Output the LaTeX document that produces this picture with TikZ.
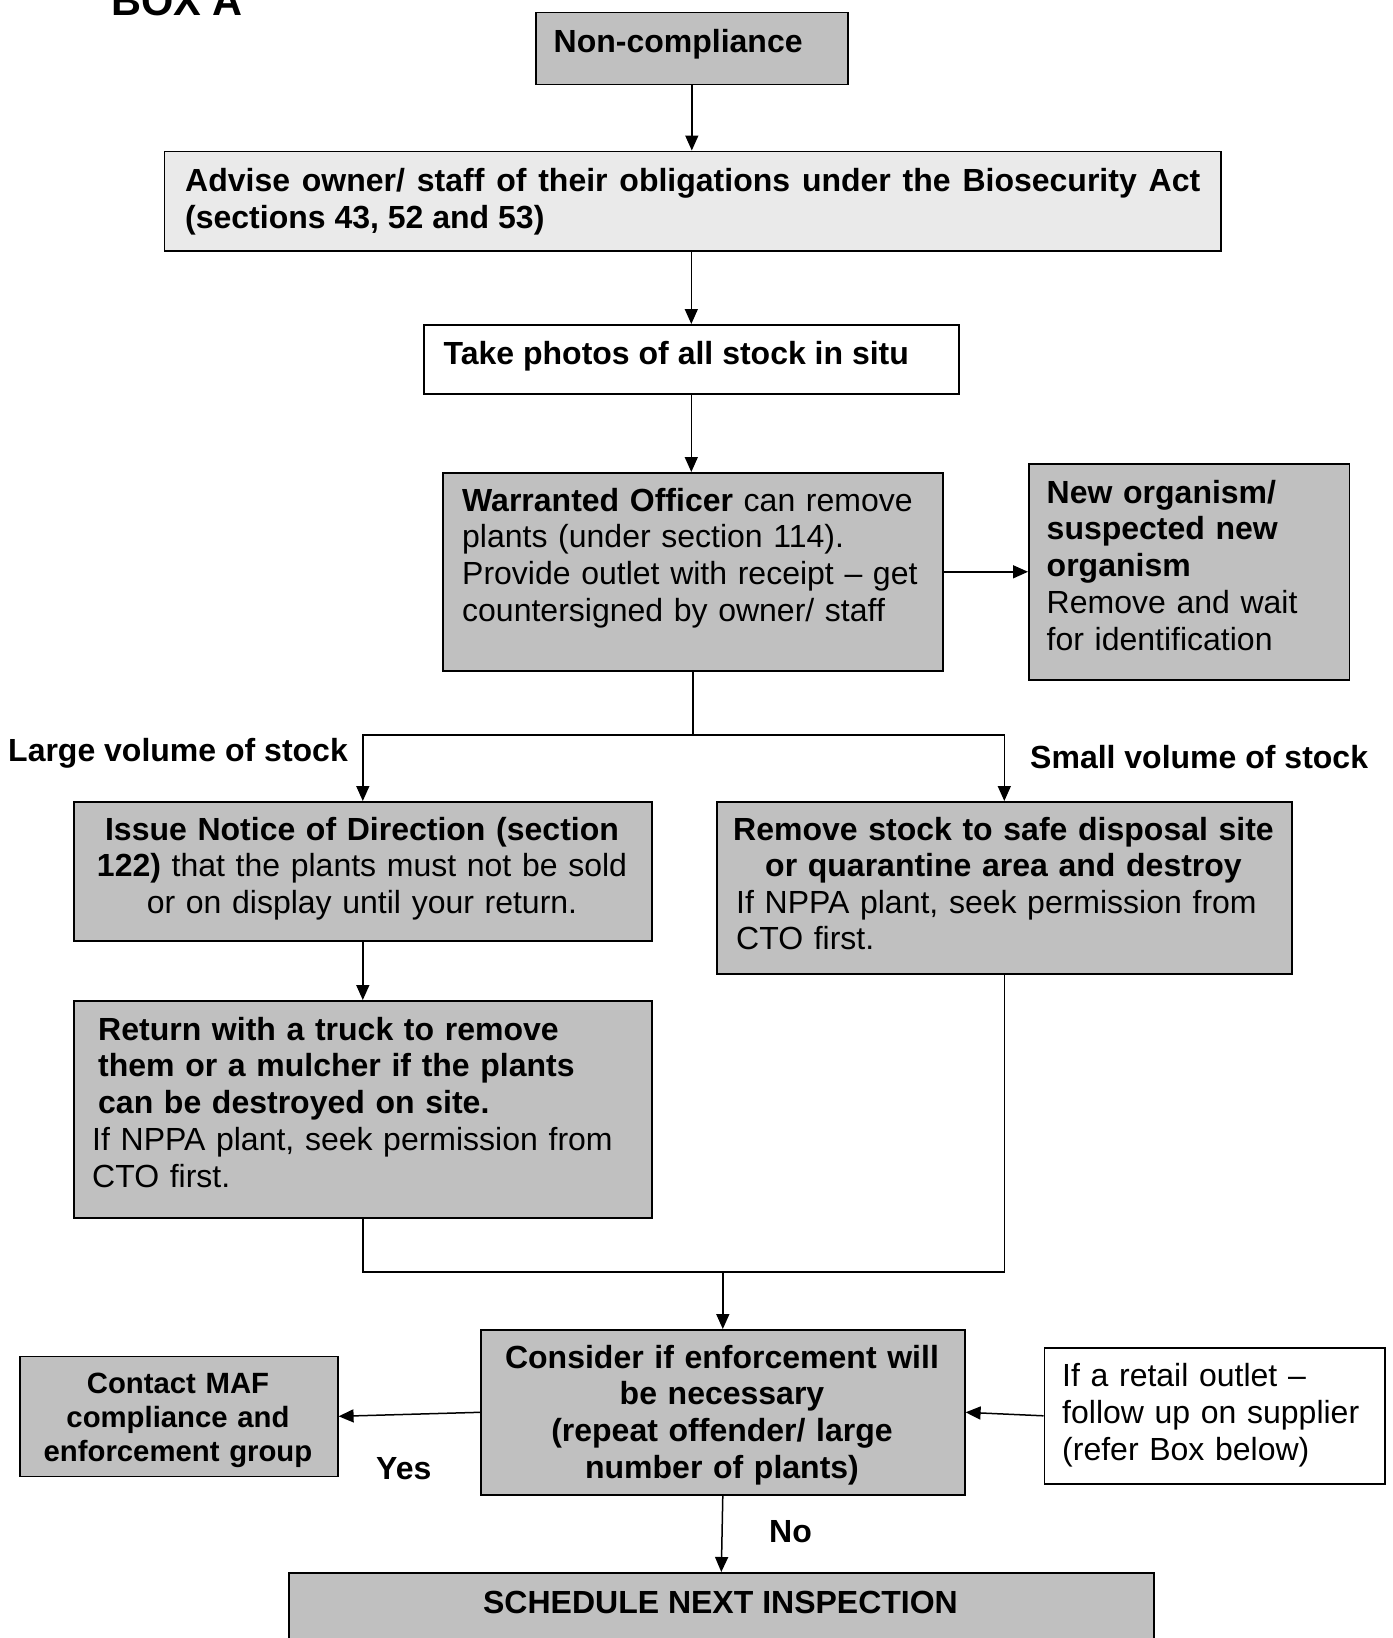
\documentclass[tikz,border=0pt]{standalone}
\usepackage{fontspec}
\setmainfont{Liberation Sans}
\usetikzlibrary{arrows.meta}
\definecolor{boxgray}{RGB}{192,192,192}
\definecolor{boxlight}{RGB}{234,234,234}
\begin{document}
\begin{tikzpicture}[x=1pt,y=-1pt,
  box/.style={draw,line width=1.6pt,fill=boxgray,anchor=north west,inner sep=0pt},
  txt/.style={inner sep=0pt,font=\fontsize{32}{36.8}\selectfont},
  conn/.style={line width=1.5pt},
  arr/.style={conn,-{Triangle[length=15pt,width=13pt]}}]
\useasboundingbox (0,0) rectangle (1392,1638);
\clip (0,0) rectangle (1392,1638);
\fill[white] (0,0) rectangle (1392,1638);

\node (boxa) at (111,16) [txt,anchor=base west,font=\fontsize{41.5}{47}\selectfont\bfseries] {BOX A};

\node (nonc) at (535,11.5) [box,minimum width=312pt,minimum height=72pt] {};
\node (advise) at (163.5,150.5) [box,fill=boxlight,minimum width=1056.5pt,minimum height=99.5pt] {};
\node (photos) at (423,324) [box,fill=white,minimum width=535pt,minimum height=69pt] {};
\node (warr) at (442,472) [box,minimum width=500pt,minimum height=198pt] {};
\node (neworg) at (1028,463) [box,minimum width=320.5pt,minimum height=216pt] {};
\node (issue) at (73,801) [box,minimum width=578pt,minimum height=139pt] {};
\node (remove) at (716,801) [box,minimum width=575pt,minimum height=172pt] {};
\node (return) at (73,1000) [box,minimum width=578pt,minimum height=217pt] {};
\node (consider) at (480,1329) [box,minimum width=484pt,minimum height=165pt] {};
\node (contact) at (19,1355.5) [box,minimum width=318pt,minimum height=120pt] {};
\node (retail) at (1043.5,1347) [box,fill=white,minimum width=340.5pt,minimum height=136pt] {};
\node (sched) at (288,1572) [box,minimum width=865pt,minimum height=100pt] {};

\node (nonctxt) at (553.5,52) [txt,anchor=base west] {\bfseries Non-compliance};
\node (advisetxt) at (185,191.5) [txt,anchor=base west,text width=1015pt,align=justify] {\bfseries Advise owner/ staff of their obligations under the Biosecurity Act\linebreak (sections 43, 52 and 53)};
\node (photostxt) at (443.5,364.5) [txt,anchor=base west] {\bfseries Take photos of all stock in situ};
\node (warrtxt) at (462,511) [txt,anchor=base west,text width=470pt,align=left] {\textbf{Warranted Officer} can remove\\plants (under section 114).\\Provide outlet with receipt – get\\countersigned by owner/ staff};
\node (neworgtxt) at (1046.5,503) [txt,anchor=base west,text width=300pt,align=left] {\textbf{New organism/}\\\textbf{suspected new}\\\textbf{organism}\\Remove and wait\\for identification};
\node (largelbl) at (8,761) [txt,anchor=base west] {\bfseries Large volume of stock};
\node (smalllbl) at (1030,768) [txt,anchor=base west] {\bfseries Small volume of stock};
\node (issuetxt) at (362,840) [txt,anchor=base,text width=570pt,align=center] {\textbf{Issue Notice of Direction (section}\\\textbf{122)} that the plants must not be sold\\or on display until your return.};
\node (removetop) at (1003.5,840) [txt,anchor=base,text width=570pt,align=center] {\bfseries Remove stock to safe disposal site\\or quarantine area and destroy};
\node (removebot) at (736,913) [txt,anchor=base west,text width=540pt,align=left] {If NPPA plant, seek permission from\\CTO first.};
\node (returntxt) at (92,1040) [txt,anchor=base west,text width=550pt,align=left] {\hspace*{6pt}\textbf{Return with a truck to remove}\\\hspace*{6pt}\textbf{them or a mulcher if the plants}\\\hspace*{6pt}\textbf{can be destroyed on site.}\\If NPPA plant, seek permission from\\CTO first.};
\node (considertxt) at (722,1368) [txt,anchor=base,text width=480pt,align=center] {\bfseries Consider if enforcement will\\be necessary\\(repeat offender/ large\\number of plants)};
\node (contacttxt) at (178,1393) [txt,anchor=base,text width=310pt,align=center,font=\fontsize{29.3}{34}\selectfont\bfseries] {Contact MAF\\compliance and\\enforcement group};
\node (retailtxt) at (1062,1386.5) [txt,anchor=base west,text width=320pt,align=left] {If a retail outlet –\\follow up on supplier\\(refer Box below)};
\node (yes) at (376,1479.5) [txt,anchor=base west] {\bfseries Yes};
\node (no) at (769,1542) [txt,anchor=base west] {\bfseries No};
\node (schedtxt) at (720.5,1613) [txt,anchor=base] {\bfseries SCHEDULE NEXT INSPECTION};

\draw[arr] (nonc.south) -- (nonc.south |- advise.north);
\draw[arr] (photos.north |- advise.south) -- (photos.north);
\draw[arr] (photos.south) -- (photos.south |- warr.north);
\draw[arr] (warr.east) -- (neworg.west);
\coordinate (split) at (warr.south |- 0,735);
\draw[conn] (warr.south) -- (split);
\draw[arr] (split) -| (issue.north);
\draw[arr] (split) -| (remove.north);
\draw[arr] (issue.south) -- (return.north);
\coordinate (join) at (consider.north |- 0,1272);
\draw[conn] (return.south) |- (join);
\draw[conn] (remove.south) |- (join);
\draw[arr] (join) -- (consider.north);
\draw[arr] (consider.west) -- (contact.east);
\draw[arr] (retail.west) -- (consider.east);
\draw[arr] (consider.south) -- (sched.north);
\end{tikzpicture}
\end{document}
